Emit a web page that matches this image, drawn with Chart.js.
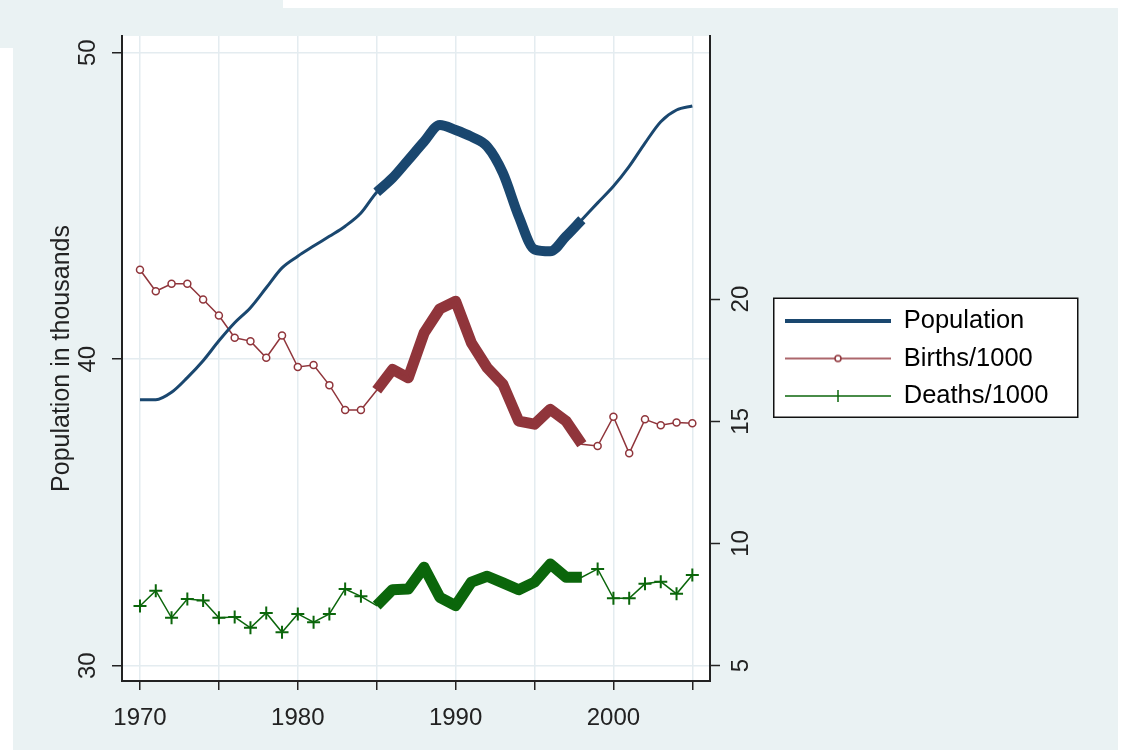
<!DOCTYPE html>
<html>
<head>
<meta charset="utf-8">
<script src="https://cdn.jsdelivr.net/npm/chart.js@4.4.1/dist/chart.umd.min.js"></script>
<style>
  body { margin: 0; background: #fff; }
  .bg { position: absolute; background: #eaf2f3; }
  #chart { position: absolute; left: 0; top: 0; }
</style>
</head>
<body>
<div class="bg" style="left:0;top:0;width:283px;height:48px"></div>
<div class="bg" style="left:13px;top:8px;width:1105px;height:742px"></div>
<canvas id="chart" width="1128" height="750"></canvas>
<script>
const years = [1970, 1971, 1972, 1973, 1974, 1975, 1976, 1977, 1978, 1979,
               1980, 1981, 1982, 1983, 1984, 1985, 1986, 1987, 1988, 1989,
               1990, 1991, 1992, 1993, 1994, 1995, 1996, 1997, 1998, 1999,
               2000, 2001, 2002, 2003, 2004, 2005];
const population = [38.68, 38.68, 38.92, 39.40, 39.95, 40.60, 41.19, 41.68, 42.33, 42.98,
                    43.36, 43.69, 44.01, 44.34, 44.77, 45.45, 45.91, 46.50, 47.10, 47.64,
                    47.48, 47.26, 46.94, 46.07, 44.66, 43.58, 43.52, 44.01, 44.55, 45.10,
                    45.64, 46.29, 47.05, 47.75, 48.13, 48.26];
const births = [21.20, 20.32, 20.63, 20.63, 19.98, 19.33, 18.42, 18.28, 17.60, 18.51,
                17.22, 17.30, 16.48, 15.46, 15.46, 16.27, 17.12, 16.78, 18.61, 19.60,
                19.91, 18.21, 17.19, 16.51, 15.01, 14.88, 15.49, 15.01, 14.06, 13.99,
                15.19, 13.69, 15.08, 14.84, 14.95, 14.92];
const deaths = [7.44, 8.07, 6.96, 7.73, 7.67, 6.96, 6.99, 6.55, 7.16, 6.37,
                7.12, 6.78, 7.12, 8.14, 7.84, 7.46, 8.11, 8.14, 9.03, 7.80,
                7.46, 8.42, 8.66, 8.39, 8.11, 8.42, 9.16, 8.62, 8.62, 8.96,
                7.76, 7.76, 8.35, 8.44, 7.94, 8.71];
// highlighted period (thick segments)
const hiFrom = 1985, hiTo = 1998;
const xTicks = [1970, 1975, 1980, 1985, 1990, 1995, 2000, 2005];
const xLabels = [1970, 1980, 1990, 2000];
const popTicks = [30, 40, 50];
const rateTicks = [5, 10, 15, 20];

const navy = '#1a476f', maroon = '#90353b', green = '#0b660b';
const axisColor = '#222', gridColor = '#e4ecf0';
const tickFont = { family: "'Liberation Sans', Arial, sans-serif", size: 24 };
const labelFont = { family: "'Liberation Sans', Arial, sans-serif", size: 25 };

const pts = vals => years.map((yr, i) => ({ x: yr, y: vals[i] }));
const hiPts = vals => pts(vals).filter(p => p.x >= hiFrom && p.x <= hiTo);
const outsideHi = r => ctx => {
  const yr = years[ctx.dataIndex];
  return (yr >= hiFrom && yr <= hiTo) ? 0 : r;
};

// legend samples: line with marker in the middle
function sample(color, width, marker) {
  const c = document.createElement('canvas');
  c.width = 106; c.height = 16;
  const g = c.getContext('2d');
  g.strokeStyle = color;
  g.lineWidth = width;
  g.beginPath(); g.moveTo(0, 8); g.lineTo(106, 8); g.stroke();
  g.lineWidth = 1.5;
  if (marker === 'circle') {
    g.fillStyle = '#fff';
    g.beginPath(); g.arc(53, 8, 3, 0, Math.PI * 2); g.fill(); g.stroke();
  }
  if (marker === 'cross') {
    g.beginPath(); g.moveTo(53, 2); g.lineTo(53, 14); g.stroke();
  }
  return c;
}

const paper = {
  id: 'paper',
  afterInit(chart) {
    const lg = chart.legend;
    const fit = lg.fit.bind(lg);
    lg.fit = () => { fit(); lg.width = 282; };
  },
  beforeDraw(chart) {
    const { ctx, chartArea: a, legend: lg } = chart;
    ctx.save();
    ctx.fillStyle = '#fff';
    ctx.fillRect(a.left, a.top, a.right - a.left, a.bottom - a.top);
    const top = (lg.top + 12 + lg.bottom - lg.columnSizes[0].height) / 2 - 10;
    ctx.fillRect(lg.left, top, 304, 119);
    ctx.strokeStyle = '#111';
    ctx.lineWidth = 1.5;
    ctx.strokeRect(lg.left + 0.75, top, 304, 119);
    ctx.restore();
  }
};

new Chart(document.getElementById('chart'), {
  type: 'line',
  data: {
    datasets: [
      { label: 'Population', data: pts(population), yAxisID: 'y', borderColor: navy, borderWidth: 3,
        pointRadius: 0, cubicInterpolationMode: 'monotone' },
      { label: 'Births/1000', data: pts(births), yAxisID: 'y1', borderColor: maroon, borderWidth: 1.5,
        pointStyle: 'circle', pointRadius: outsideHi(3.5), pointBorderWidth: 1.5,
        pointBorderColor: maroon, pointBackgroundColor: '#fff' },
      { label: 'Deaths/1000', data: pts(deaths), yAxisID: 'y1', borderColor: green, borderWidth: 1.5,
        pointStyle: 'cross', pointRadius: outsideHi(6.5), pointBorderWidth: 2, pointBorderColor: green },
      { label: 'pop-hi', data: hiPts(population), yAxisID: 'y', borderColor: navy, borderWidth: 10,
        pointRadius: 0, cubicInterpolationMode: 'monotone', borderJoinStyle: 'round' },
      { label: 'births-hi', data: hiPts(births), yAxisID: 'y1', borderColor: maroon, borderWidth: 11,
        pointRadius: 0, borderJoinStyle: 'round' },
      { label: 'deaths-hi', data: hiPts(deaths), yAxisID: 'y1', borderColor: green, borderWidth: 11,
        pointRadius: 0, borderJoinStyle: 'round' }
    ]
  },
  options: {
    responsive: false,
    animation: false,
    layout: { padding: { left: 0, top: 36, right: 73, bottom: 0 } },
    scales: {
      x: {
        type: 'linear', min: 1968.86, max: 2006.12,
        afterBuildTicks: s => { s.ticks = xTicks.map(v => ({ value: v })); },
        afterFit: s => { s.height = 69; },
        ticks: { autoSkip: false, maxRotation: 0, padding: 14, font: tickFont, color: axisColor,
                 callback: v => xLabels.includes(v) ? String(v) : '' },
        grid: { color: gridColor, lineWidth: 1.5, tickColor: axisColor, tickLength: 9, tickWidth: 1.5 },
        border: { color: axisColor, width: 2 }
      },
      y: {
        position: 'left', min: 29.5, max: 50.545,
        afterBuildTicks: s => { s.ticks = popTicks.map(v => ({ value: v })); },
        afterFit: s => { s.width = 122; },
        ticks: { minRotation: 90, maxRotation: 90, crossAlign: 'center', padding: 10,
                 font: tickFont, color: axisColor, callback: v => String(v) },
        title: { display: true, text: 'Population in thousands', font: labelFont, color: axisColor,
                 padding: { top: 47, bottom: 0 } },
        grid: { color: gridColor, lineWidth: 1.5, tickColor: axisColor, tickLength: 10, tickWidth: 1.5 },
        border: { color: axisColor, width: 2 }
      },
      y1: {
        position: 'right', min: 4.374, max: 30.765,
        afterBuildTicks: s => { s.ticks = rateTicks.map(v => ({ value: v })); },
        afterFit: s => { s.width = 63; },
        ticks: { minRotation: 90, maxRotation: 90, crossAlign: 'center', padding: 8,
                 font: tickFont, color: axisColor, callback: v => String(v) },
        grid: { drawOnChartArea: false, tickColor: axisColor, tickLength: 10, tickWidth: 1.5 },
        border: { color: axisColor, width: 2 }
      }
    },
    plugins: {
      tooltip: { enabled: false },
      legend: {
        position: 'right',
        align: 'center',
        fullSize: false,
        labels: {
          usePointStyle: true,
          pointStyleWidth: 106,
          padding: 12,
          font: { family: "'Liberation Sans', Arial, sans-serif", size: 25.5 },
          color: '#111',
          generateLabels: () => [
            { text: 'Population', pointStyle: sample(navy, 4), lineWidth: 0, datasetIndex: 0 },
            { text: 'Births/1000', pointStyle: sample(maroon, 1.5, 'circle'), lineWidth: 0, datasetIndex: 1 },
            { text: 'Deaths/1000', pointStyle: sample(green, 1.5, 'cross'), lineWidth: 0, datasetIndex: 2 }
          ]
        }
      }
    }
  },
  plugins: [paper]
});
</script>
</body>
</html>
